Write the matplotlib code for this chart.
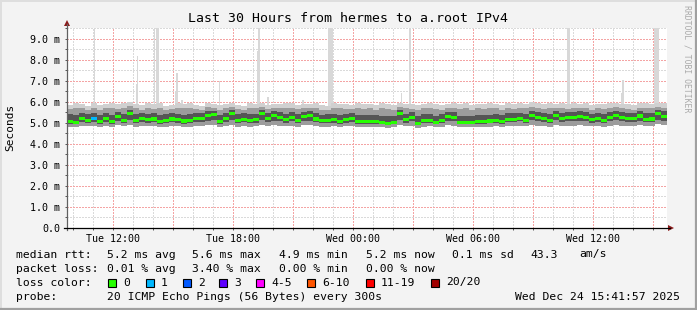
import datetime as dt
import numpy as np
import matplotlib
matplotlib.use("Agg")
import matplotlib.pyplot as plt
import matplotlib.dates as mdates
from matplotlib.ticker import MultipleLocator, FuncFormatter
from matplotlib.patches import Rectangle, Polygon
from matplotlib.lines import Line2D

# ---------------- data ----------------
start = dt.datetime(2025, 12, 23, 9, 41, 57)
end = dt.datetime(2025, 12, 24, 15, 41, 57)
step_min = 18  # consolidated sample spacing (minutes)

# median RTT (ms) per sample
median = [5.05, 5.00, 5.22, 5.12, 5.20, 5.05, 5.20, 5.07, 5.30, 5.10, 5.45, 5.12, 5.22, 5.15, 5.18, 5.05,
          5.12, 5.18, 5.15, 5.08, 5.12, 5.20, 5.20, 5.35, 5.38, 5.05, 5.20, 5.42, 5.10, 5.17, 5.12, 5.15, 5.45,
          5.22, 5.33, 5.25, 5.15, 5.25, 5.12, 5.28, 5.35, 5.18, 5.10, 5.12, 5.15, 5.05, 5.15, 5.20, 5.05, 5.05,
          5.05, 5.05, 5.02, 4.98, 5.00, 5.42, 5.15, 5.25, 4.98, 5.10, 5.12, 5.00, 5.10, 5.30, 5.25, 5.02,
          5.00, 5.00, 5.05, 5.05, 5.08, 5.12, 5.05, 5.15, 5.15, 5.22, 5.12, 5.35, 5.25, 5.20, 5.10, 5.35, 5.22,
          5.25, 5.25, 5.30, 5.25, 5.15, 5.20, 5.12, 5.25, 5.35, 5.25, 5.22, 5.20, 5.32, 5.17, 5.18, 5.42, 5.30]

# smoke: max ping, 90th pct, 75th pct, 25th pct, min ping (ms)
ping_max = [5.85, 5.95, 5.90, 5.80, 5.95, 5.85, 5.90, 5.92, 5.88, 5.95, 6.00, 5.90, 5.85, 5.95, 5.88, 5.92,
            5.80, 5.85, 5.95, 5.90, 5.92, 5.85, 5.80, 5.95, 5.88, 5.85, 5.90, 5.95, 5.85, 5.80, 5.92, 5.90, 5.95,
            5.85, 5.90, 5.88, 5.95, 5.92, 5.85, 5.90, 5.88, 5.92, 5.85, 5.80, 5.95, 5.90, 5.88, 5.85, 5.92, 5.88,
            5.90, 5.85, 5.92, 5.88, 5.85, 5.95, 5.90, 5.88, 5.85, 5.90, 5.92, 5.88, 5.85, 5.90, 5.95, 5.88,
            5.92, 5.85, 5.90, 5.88, 5.95, 5.90, 5.85, 5.92, 5.88, 5.95, 5.90, 5.98, 5.92, 5.88, 5.95, 5.90, 5.92,
            5.88, 5.95, 5.90, 5.92, 5.85, 5.90, 5.88, 5.92, 5.95, 5.90, 5.88, 5.85, 5.92, 5.95, 5.90, 5.95, 5.92]
ping_p90 = [5.65, 5.70, 5.72, 5.60, 5.70, 5.62, 5.68, 5.70, 5.65, 5.72, 5.78, 5.68, 5.62, 5.70, 5.66, 5.70,
            5.60, 5.65, 5.72, 5.68, 5.70, 5.65, 5.62, 5.75, 5.70, 5.62, 5.68, 5.75, 5.65, 5.60, 5.70, 5.68, 5.75,
            5.65, 5.70, 5.68, 5.72, 5.70, 5.64, 5.70, 5.68, 5.70, 5.62, 5.60, 5.72, 5.68, 5.66, 5.64, 5.70, 5.66,
            5.68, 5.62, 5.70, 5.66, 5.62, 5.75, 5.68, 5.66, 5.62, 5.68, 5.70, 5.66, 5.62, 5.68, 5.72, 5.65,
            5.70, 5.62, 5.68, 5.66, 5.72, 5.68, 5.62, 5.70, 5.66, 5.72, 5.68, 5.76, 5.70, 5.66, 5.72, 5.68, 5.70,
            5.66, 5.72, 5.68, 5.70, 5.62, 5.68, 5.66, 5.70, 5.74, 5.68, 5.66, 5.62, 5.70, 5.72, 5.68, 5.75, 5.70]
ping_p75 = [5.40, 5.38, 5.48, 5.40, 5.45, 5.35, 5.45, 5.38, 5.52, 5.42, 5.62, 5.40, 5.48, 5.42, 5.45, 5.36,
            5.40, 5.45, 5.42, 5.38, 5.40, 5.46, 5.46, 5.56, 5.58, 5.36, 5.46, 5.60, 5.40, 5.44, 5.40, 5.42, 5.62,
            5.48, 5.55, 5.50, 5.42, 5.50, 5.40, 5.52, 5.56, 5.45, 5.38, 5.40, 5.42, 5.35, 5.42, 5.46, 5.35, 5.35,
            5.36, 5.35, 5.32, 5.30, 5.32, 5.60, 5.42, 5.50, 5.30, 5.40, 5.42, 5.32, 5.40, 5.52, 5.50, 5.34,
            5.32, 5.32, 5.36, 5.36, 5.38, 5.42, 5.36, 5.44, 5.44, 5.48, 5.42, 5.56, 5.50, 5.46, 5.40, 5.56, 5.48,
            5.50, 5.50, 5.54, 5.50, 5.42, 5.46, 5.40, 5.50, 5.56, 5.50, 5.48, 5.46, 5.54, 5.44, 5.45, 5.60, 5.54]
ping_p25 = [4.96, 4.92, 5.05, 4.98, 5.02, 4.95, 5.02, 4.96, 5.08, 4.98, 5.15, 4.98, 5.04, 5.00, 5.02, 4.95,
            4.98, 5.02, 5.00, 4.96, 4.98, 5.04, 5.02, 5.10, 5.12, 4.95, 5.02, 5.15, 4.98, 5.02, 4.98, 5.00, 5.15,
            5.05, 5.10, 5.06, 5.00, 5.06, 4.98, 5.08, 5.10, 5.02, 4.97, 4.98, 5.00, 4.94, 5.00, 5.04, 4.94, 4.94,
            4.95, 4.94, 4.92, 4.90, 4.92, 5.12, 5.00, 5.06, 4.90, 4.98, 5.00, 4.92, 4.98, 5.08, 5.06, 4.94,
            4.92, 4.92, 4.95, 4.95, 4.97, 5.00, 4.95, 5.02, 5.02, 5.06, 5.00, 5.12, 5.06, 5.04, 4.98, 5.12, 5.05,
            5.06, 5.06, 5.10, 5.06, 5.00, 5.04, 4.98, 5.06, 5.12, 5.06, 5.05, 5.02, 5.10, 5.02, 5.02, 5.15, 5.10]
ping_min = [4.82, 4.80, 4.86, 4.84, 4.85, 4.80, 4.86, 4.82, 4.88, 4.83, 4.90, 4.82, 4.86, 4.84, 4.85, 4.80,
            4.82, 4.85, 4.84, 4.80, 4.82, 4.86, 4.85, 4.88, 4.90, 4.80, 4.85, 4.90, 4.82, 4.85, 4.82, 4.84, 4.90,
            4.86, 4.88, 4.86, 4.84, 4.86, 4.82, 4.88, 4.88, 4.85, 4.82, 4.82, 4.84, 4.80, 4.84, 4.86, 4.80, 4.80,
            4.80, 4.80, 4.78, 4.76, 4.78, 4.90, 4.84, 4.86, 4.76, 4.82, 4.84, 4.78, 4.82, 4.88, 4.86, 4.80,
            4.78, 4.78, 4.80, 4.80, 4.82, 4.84, 4.80, 4.85, 4.85, 4.86, 4.84, 4.90, 4.86, 4.85, 4.82, 4.90, 4.86,
            4.86, 4.86, 4.88, 4.86, 4.84, 4.85, 4.82, 4.86, 4.90, 4.86, 4.86, 4.84, 4.88, 4.84, 4.84, 4.92, 4.88]

# samples with lost pings (index -> lost count)
loss_index = [4]
loss_count = [1]

# isolated max-ping spikes: hours after start, top value (ms); 10.0 = clipped above chart
spike_hours = [1.38, 3.48, 3.53, 4.38, 4.47, 4.55, 5.42, 5.50, 5.75, 7.62, 9.55, 9.60, 10.05,
               11.80, 13.10, 13.20, 13.28, 16.73, 17.12, 17.18, 25.05, 25.12, 27.75, 27.80,
               29.40, 29.48, 29.55]
spike_tops = [10.0, 6.83, 8.18, 10.0, 10.0, 10.0, 6.50, 7.35, 6.10, 7.00, 8.40, 10.0, 6.20,
              6.10, 10.0, 10.0, 10.0, 6.40, 10.0, 10.0, 10.0, 10.0, 6.40, 7.05,
              10.0, 10.0, 10.0]

loss_labels = ["0", "1", "2", "3", "4-5", "6-10", "11-19", "20/20"]
loss_colors = ["#26ff00", "#00b8ff", "#0059ff", "#5e00ff", "#ff00ff", "#ff5500", "#ff0000", "#a10000"]

title = "Last 30 Hours from hermes to a.root IPv4"

# ---------------- figure ----------------
W, H = 697, 310
MONO = "DejaVu Sans Mono"
plt.rcParams["font.family"] = [MONO, "DejaVu Sans"]

fig = plt.figure(figsize=(W / 100, H / 100), dpi=100)
fig.patch.set_facecolor("#f3f3f3")


def fx(x):
    return x / W


def fy(y):
    return 1 - y / H


ax = fig.add_axes([fx(67), fy(228), 600 / W, 200 / H])
ax.set_facecolor("white")
ax.set_xlim(start, end)
ax.set_ylim(0, 9.5)

n = len(median)
t = [start + dt.timedelta(minutes=step_min * i) for i in range(n + 1)]


def ext(a):
    a = np.asarray(a, dtype=float)
    return np.append(a, a[-1])


# spikes
stimes = [start + dt.timedelta(hours=h) for h in spike_hours]
ax.bar(stimes, np.array(spike_tops) - 5.0, bottom=5.0, width=5 / 1440, align="center",
       color="#d8d8d8", linewidth=0, zorder=2)

# smoke
ax.fill_between(t, ext(ping_min), ext(ping_max), step="post", color="#d0d0d0", lw=0, zorder=3)
ax.fill_between(t, ext(ping_min), ext(ping_p90), step="post", color="#9c9c9c", lw=0, zorder=3)
ax.fill_between(t, ext(ping_p25), ext(ping_p75), step="post", color="#555555", lw=0, zorder=3)

# median band coloured by loss
half = 0.075
med = ext(median)
ax.fill_between(t, med - half, med + half, step="post", color=loss_colors[0], lw=0, zorder=4)
for idx, cnt in zip(loss_index, loss_count):
    ax.fill_between(t[idx:idx + 2], [median[idx] - half] * 2, [median[idx] + half] * 2,
                    step="post", color=loss_colors[cnt], lw=0, zorder=5)

# grid & ticks
ax.xaxis.set_major_locator(mdates.HourLocator(byhour=range(0, 24, 3)))
ax.xaxis.set_minor_locator(mdates.HourLocator())
ax.yaxis.set_major_locator(MultipleLocator(1))
ax.yaxis.set_minor_locator(MultipleLocator(0.5))
ax.grid(which="minor", color="#dadada", linestyle=(0, (1, 1)), linewidth=1.0, antialiased=False)
ax.grid(which="major", color="#f4a4a4", linestyle=(0, (1, 1)), linewidth=1.0, antialiased=False)
ax.set_axisbelow(True)


def xfmt(v, pos):
    d = mdates.num2date(v)
    if d.hour % 6 == 0:
        return d.strftime("%a %H:%M")
    return ""


def yfmt(v, pos):
    if abs(v) < 1e-9:
        return "0.0"
    return "%.1f m" % v


ax.xaxis.set_major_formatter(FuncFormatter(xfmt))
ax.yaxis.set_major_formatter(FuncFormatter(yfmt))
ax.tick_params(axis="both", which="both", direction="out", length=1.6, width=0.7, color="#555555")
ax.tick_params(axis="x", which="major", pad=2.6, labelsize=7.2)
ax.tick_params(axis="y", which="major", pad=3.4, labelsize=7.2)
for s in ax.spines.values():
    s.set_visible(False)

# axis lines + arrows (figure pixels)
fig.add_artist(Line2D([fx(67), fx(67)], [fy(230), fy(24)], color="#606060", lw=0.9))
fig.add_artist(Line2D([fx(64), fx(670)], [fy(228), fy(228)], color="#000000", lw=0.9))
fig.add_artist(Polygon([(fx(64), fy(26)), (fx(70), fy(26)), (fx(67), fy(20))], closed=True,
                       color="#8b1a1a", lw=0))
fig.add_artist(Polygon([(fx(668), fy(225)), (fx(668), fy(231)), (fx(674), fy(228))], closed=True,
                       color="#8b1a1a", lw=0))

# title and labels
fig.text(fx(347.5), fy(19), title, ha="center", va="center", fontsize=9.5, family=MONO)
fig.text(fx(10), fy(127), "Seconds", ha="center", va="center", rotation=90, fontsize=8, family=MONO)
fig.text(fx(687), fy(59), "RRDTOOL / TOBI OETIKER", ha="center", va="center", rotation=270,
         fontsize=5.9, family=MONO, color="#aaaaaa")

# legend
LF = 8.2
rows = [254.5, 268.5, 282.5, 296.5]
fig.text(fx(16), fy(rows[0]), "median rtt:", va="center", fontsize=LF, family=MONO)
for x, s in [(107.3, "5.2 ms avg"), (192, "5.6 ms max"), (279.3, "4.9 ms min"),
             (365.7, "5.2 ms now"), (451.7, "0.1 ms sd"), (530, "43.3"), (579.3, "am/s")]:
    fig.text(fx(x), fy(rows[0]), s, va="center", fontsize=LF, family=MONO)
fig.text(fx(16), fy(rows[1]), "packet loss:", va="center", fontsize=LF, family=MONO)
for x, s in [(107.3, "0.01 % avg"), (192, "3.40 % max"), (279.3, "0.00 % min"), (365.7, "0.00 % now")]:
    fig.text(fx(x), fy(rows[1]), s, va="center", fontsize=LF, family=MONO)
fig.text(fx(16), fy(rows[2]), "loss color:", va="center", fontsize=LF, family=MONO)
box_x = [108.3, 145.7, 182.7, 219.3, 256, 307.3, 365.7, 431]
for bx, lab, col in zip(box_x, loss_labels, loss_colors):
    fig.add_artist(Rectangle((fx(bx), fy(rows[2] + 4)), 8 / W, 8 / H, facecolor=col,
                             edgecolor="black", lw=0.8))
    fig.text(fx(bx + 15), fy(rows[2]), lab, va="center", fontsize=LF, family=MONO)
fig.text(fx(16), fy(rows[3]), "probe:", va="center", fontsize=LF, family=MONO)
fig.text(fx(107.3), fy(rows[3]), "20 ICMP Echo Pings (56 Bytes) every 300s", va="center",
         fontsize=LF, family=MONO)
fig.text(fx(680), fy(rows[3]), "Wed Dec 24 15:41:57 2025", va="center", ha="right",
         fontsize=LF, family=MONO)

# 3D frame
fig.add_artist(Line2D([0, 1], [fy(0.5), fy(0.5)], color="#dedede", lw=1.4))
fig.add_artist(Line2D([fx(0.5), fx(0.5)], [0, 1], color="#dedede", lw=1.4))
fig.add_artist(Line2D([0, 1], [fy(309), fy(309)], color="#a0a0a0", lw=1.6))
fig.add_artist(Line2D([fx(696), fx(696)], [0, 1], color="#a0a0a0", lw=1.6))

fig.savefig("out.png", dpi=100, facecolor=fig.get_facecolor())
